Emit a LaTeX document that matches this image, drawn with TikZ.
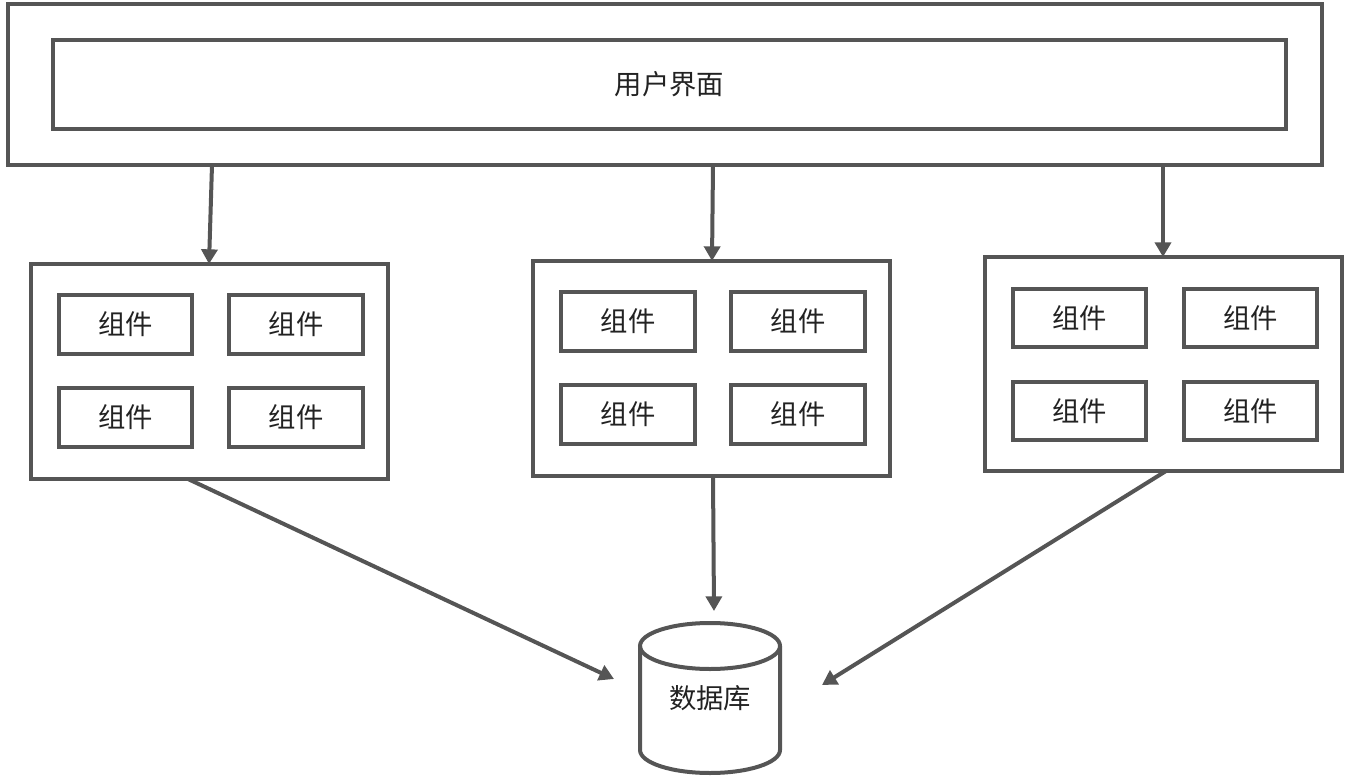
\documentclass[tikz,border=0pt]{standalone}
\usepackage{fontspec}
\newfontfamily\cjk{Noto Sans CJK SC}
\usetikzlibrary{arrows.meta,fit}
\definecolor{lc}{HTML}{555555}
\definecolor{tc}{HTML}{222222}
\tikzset{
  txt/.style={text=tc, font=\cjk\fontsize{20.5}{24}\selectfont},
  box/.style={draw=lc, line width=3pt, inner sep=0pt, outer sep=0pt},
  cbox/.style={box, label={[txt]center:#1}},
  arr/.style={draw=lc, line width=3pt, -{Triangle[length=11pt,width=12pt]}},
}
\begin{document}
\begin{tikzpicture}[x=0.75pt,y=0.75pt]
\useasboundingbox (0,0) rectangle (1349,-777);
% top
\node[box, fit={(7.5,-4.5)(1322,-165)}] (outer) {};
\node[cbox=用户界面, fit={(53,-40)(1286,-129)}] (ui) {};
% left group
\node[box, fit={(31,-264)(388,-479)}] (gl) {};
\node[cbox=组件, fit={(59,-295)(192,-354)}] (l1) {};
\node[cbox=组件, fit={(229,-295)(363,-354)}] (l2) {};
\node[cbox=组件, fit={(59,-388)(192,-447)}] (l3) {};
\node[cbox=组件, fit={(229,-388)(363,-447)}] (l4) {};
% middle group
\node[box, fit={(533,-261)(890,-476)}] (gm) {};
\node[cbox=组件, fit={(561,-292)(695,-351)}] (m1) {};
\node[cbox=组件, fit={(731,-292)(865,-351)}] (m2) {};
\node[cbox=组件, fit={(561,-385)(695,-444)}] (m3) {};
\node[cbox=组件, fit={(731,-385)(865,-444)}] (m4) {};
% right group
\node[box, fit={(985,-257)(1342,-471)}] (gr) {};
\node[cbox=组件, fit={(1013,-289)(1146,-347)}] (r1) {};
\node[cbox=组件, fit={(1184,-289)(1317,-347)}] (r2) {};
\node[cbox=组件, fit={(1013,-382)(1146,-440)}] (r3) {};
\node[cbox=组件, fit={(1184,-382)(1317,-440)}] (r4) {};
% database
\draw[lc, line width=3pt] (640,-646) -- (640,-750) arc[start angle=180, end angle=360, x radius=70, y radius=23] -- (780,-646);
\draw[lc, line width=3pt] (710,-646) ellipse [x radius=70, y radius=23];
\node[txt] (db) at (710,-698) {数据库};
% connector coordinates
\coordinate (a1s) at (212,-165);
\coordinate (a1e) at (209,-264);
\coordinate (a2s) at (713,-165);
\coordinate (a2e) at (712,-261);
\coordinate (a3s) at (1163,-165);
\coordinate (a3e) at (1163,-257);
\coordinate (b1s) at (188,-479);
\coordinate (b1e) at (614,-679);
\coordinate (b2s) at (713,-476);
\coordinate (b2e) at (714,-611);
\coordinate (b3s) at (1166,-471);
\coordinate (b3e) at (822,-685);
\draw[arr] (a1s) -- (a1e);
\draw[arr] (a2s) -- (a2e);
\draw[arr] (a3s) -- (a3e);
\draw[arr] (b1s) -- (b1e);
\draw[arr] (b2s) -- (b2e);
\draw[arr] (b3s) -- (b3e);
\end{tikzpicture}
\end{document}
